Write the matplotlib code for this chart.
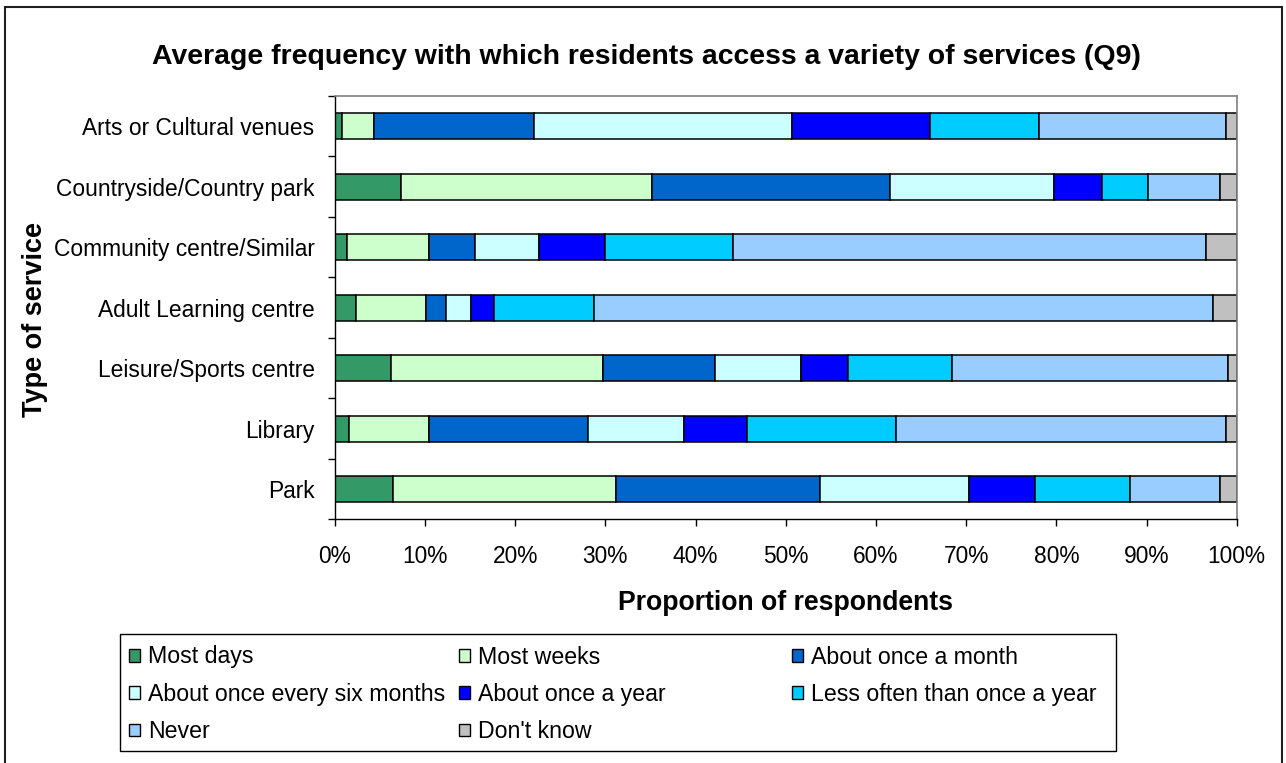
import numpy as np
import matplotlib
matplotlib.use("Agg")
import matplotlib.pyplot as plt
from matplotlib.patches import Patch, Rectangle
from matplotlib.ticker import PercentFormatter

plt.rcParams["font.family"] = ["Liberation Sans", "DejaVu Sans"]

services = ["Arts or Cultural venues", "Countryside/Country park", "Community centre/Similar",
            "Adult Learning centre", "Leisure/Sports centre", "Library", "Park"]

frequencies = ["Most days", "Most weeks", "About once a month", "About once every six months",
               "About once a year", "Less often than once a year", "Never", "Don't know"]

# percent of respondents, one list per answer, services in the order above
most_days = [0.8, 7.4, 1.4, 2.4, 6.2, 1.6, 6.5]
most_weeks = [3.6, 27.8, 9.1, 7.7, 23.6, 8.9, 24.7]
once_month = [17.7, 26.4, 5.0, 2.2, 12.4, 17.6, 22.6]
six_months = [28.6, 18.1, 7.2, 2.8, 9.5, 10.6, 16.5]
once_year = [15.3, 5.4, 7.3, 2.6, 5.2, 7.0, 7.3]
less_often = [12.1, 5.1, 14.2, 11.1, 11.5, 16.5, 10.6]
never = [20.7, 8.0, 52.4, 68.6, 30.6, 36.6, 10.0]
dont_know = [1.2, 1.8, 3.4, 2.6, 1.0, 1.2, 1.8]

colors = ["#339966", "#CCFFCC", "#0066CC", "#CCFFFF", "#0000FF", "#00CCFF", "#99CCFF", "#C0C0C0"]

W, H = 1286, 763
fig = plt.figure(figsize=(W / 100, H / 100), dpi=100)
ax = fig.add_axes([334.7 / W, 1 - 519.3 / H, 902 / W, 423.3 / H])

series = [most_days, most_weeks, once_month, six_months, once_year, less_often, never, dont_know]
y = np.arange(len(services))
left = np.zeros(len(services))
for values, color, label in zip(series, colors, frequencies):
    ax.barh(y, values, left=left, height=0.43, color=color, edgecolor="black", linewidth=1.1, label=label)
    left += np.array(values)

ax.set_xlim(0, 100)
ax.set_ylim(len(services) - 0.5, -0.5)
ax.xaxis.set_major_formatter(PercentFormatter(decimals=0))
ax.set_xticks(np.arange(0, 101, 10))
ax.tick_params(axis="x", length=5, width=1, pad=13.5, labelsize=16.4, direction="out")

ax.set_yticks(y)
ax.set_yticklabels(services)
ax.set_yticks(np.arange(-0.5, len(services)), minor=True)
ax.tick_params(axis="y", which="major", length=0, pad=14.5, labelsize=16.4)
ax.tick_params(axis="y", which="minor", length=5, width=1, direction="out")

for side in ["top", "right"]:
    ax.spines[side].set_color("#808080")
    ax.spines[side].set_linewidth(1.2)
for side in ["left", "bottom"]:
    ax.spines[side].set_color("black")
    ax.spines[side].set_linewidth(1.0)

fig.text(646 / W, 1 - 64 / H, "Average frequency with which residents access a variety of services (Q9)",
         ha="center", va="baseline", fontsize=20.4, fontweight="bold")
fig.text(785.7 / W, 1 - 603 / H, "Proportion of respondents", ha="center", va="center",
         fontsize=19.2, fontweight="bold")
fig.text(35 / W, 1 - 319 / H, "Type of service", rotation=90, ha="center", va="center",
         fontsize=19.5, fontweight="bold")

# legend: three columns laid out row by row, as in the spreadsheet chart
handles = [Patch(facecolor=c, edgecolor="black", linewidth=1.0) for c in colors]
col_x = [129, 459, 792]
for col, x0 in enumerate(col_x):
    idx = list(range(col, len(frequencies), 3))
    leg = fig.legend([handles[i] for i in idx], [frequencies[i] for i in idx],
                     loc="upper left", bbox_to_anchor=(x0 / W, 1 - 645.5 / H),
                     bbox_transform=fig.transFigure, frameon=False, borderpad=0, borderaxespad=0,
                     fontsize=16.7, handlelength=0.47, handleheight=0.47, handletextpad=0.35,
                     labelspacing=0.62)

fig.add_artist(Rectangle((119.6 / W, 1 - 751 / H), (1116 - 119.6) / W, 117 / H,
                         transform=fig.transFigure, fill=False, edgecolor="black", linewidth=1.0))
fig.add_artist(Rectangle((4.5 / W, -0.01), (1282 - 4.5) / W, 1.01 - 7 / H,
                         transform=fig.transFigure, fill=False, edgecolor="#202020", linewidth=1.5))

fig.savefig("out.png", dpi=100)
